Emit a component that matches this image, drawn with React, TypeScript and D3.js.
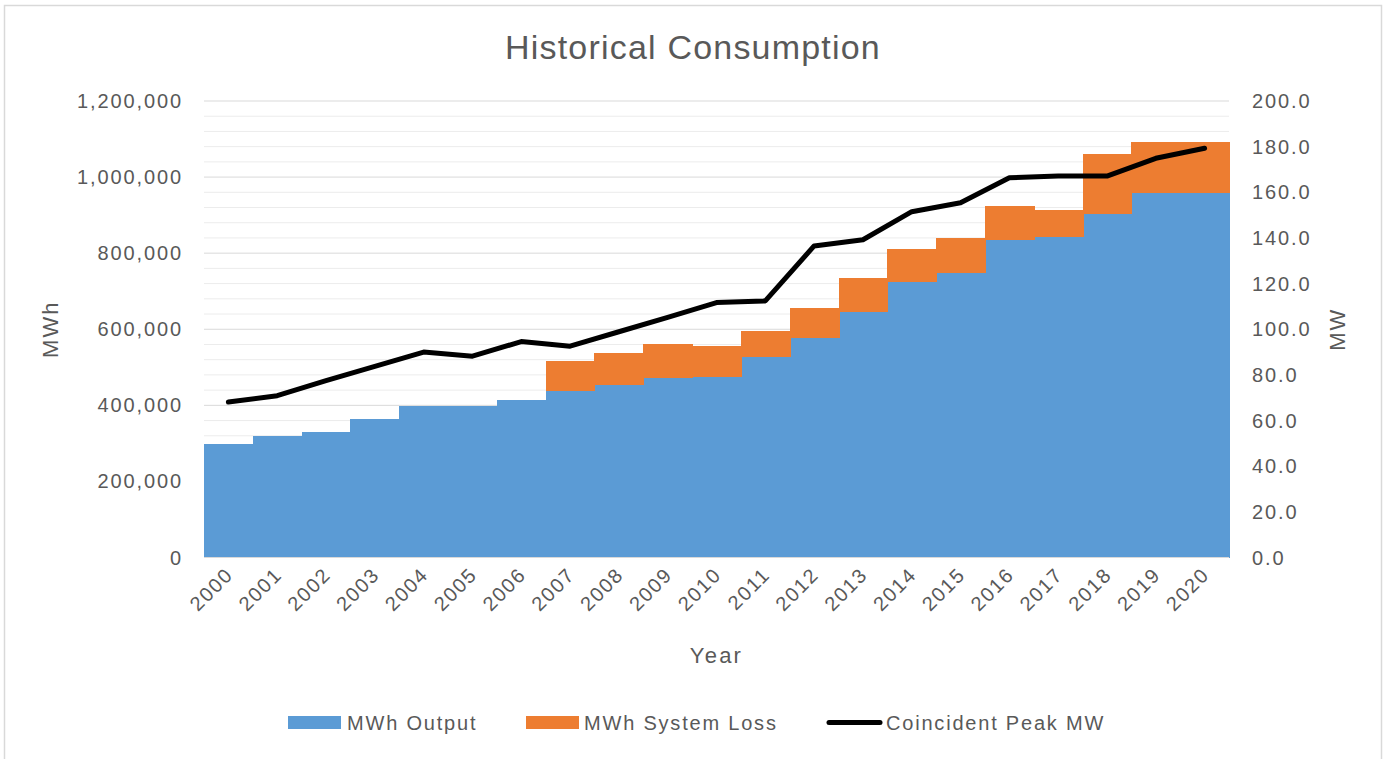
import React from 'react';
import * as d3 from 'd3';

const years = ['2000', '2001', '2002', '2003', '2004', '2005', '2006', '2007', '2008', '2009', '2010',
  '2011', '2012', '2013', '2014', '2015', '2016', '2017', '2018', '2019', '2020'];
const mwhOutput = [298000, 319000, 331000, 364000, 398000, 399000, 415000, 437000, 454000, 471000, 475000,
  526000, 578000, 645000, 723000, 747000, 835000, 842000, 902000, 959000, 959000];
const mwhLoss = [0, 0, 0, 0, 0, 0, 0, 79000, 83000, 89000, 81000,
  69000, 79000, 89000, 88000, 94000, 89000, 72000, 158000, 134000, 134000];
const peakMW = [68.1, 70.9, 77.5, 83.7, 90.0, 88.2, 94.6, 92.6, 98.9, 105.2, 111.7,
  112.4, 136.5, 139.2, 151.5, 155.4, 166.4, 167.1, 167.1, 174.9, 179.3];
const leftTicks = [0, 200000, 400000, 600000, 800000, 1000000, 1200000];
const rightTicks = [0, 20, 40, 60, 80, 100, 120, 140, 160, 180, 200];

const W = 1386;
const H = 759;
const margin = { top: 101, left: 204, right: W - 1229, bottom: H - 557.5 };
const textColor = '#595959';
const blue = '#5B9BD5';
const orange = '#ED7D31';
const font = '"Liberation Sans", Arial, sans-serif';

const App = () => {
  const x = d3.scaleBand().domain(years).range([margin.left, W - margin.right]).padding(0);
  const y = d3.scaleLinear().domain([0, 1200000]).range([H - margin.bottom, margin.top]);
  const y2 = d3.scaleLinear().domain([0, 200]).range([H - margin.bottom, margin.top]);

  const rows = years.map((yr, i) => ({ year: yr, output: mwhOutput[i], loss: mwhLoss[i] }));
  const stacked = d3.stack().keys(['output', 'loss'])(rows as any);
  const colors = [blue, orange];

  const line = d3.line<number>()
    .x((d, i) => (x(years[i]) as number) + x.bandwidth() / 2)
    .y(d => y2(d));

  const minorTicks = d3.range(0, 1200001, 40000).filter(v => v % 200000 !== 0);
  const fmt = d3.format(',');
  const midY = (margin.top + H - margin.bottom) / 2;

  return (
    <svg width={W} height={H} style={{ position: 'absolute', left: 0, top: 0, fontFamily: font }}>
      <rect x={4.5} y={5.5} width={1377} height={H} fill="#fff" stroke="#d9d9d9" strokeWidth={1.5} />
      <text x={693} y={59} textAnchor="middle" fontSize={34} fill={textColor} letterSpacing={1.2}>Historical Consumption</text>

      {minorTicks.map(v => (
        <line key={'m' + v} x1={margin.left} x2={W - margin.right} y1={y(v)} y2={y(v)} stroke="#ececec" strokeWidth={1} />
      ))}
      {leftTicks.map(v => (
        <line key={'g' + v} x1={margin.left} x2={W - margin.right} y1={y(v)} y2={y(v)} stroke="#d9d9d9" strokeWidth={1} />
      ))}

      {stacked.map((s, si) => (
        <g key={si} fill={colors[si]} shapeRendering="crispEdges">
          {s.map((d: any, i) => (d[1] - d[0] > 0 ? (
            <rect key={i} x={x(years[i])} width={x.bandwidth() + 1} y={y(d[1])} height={y(d[0]) - y(d[1])} />
          ) : null))}
        </g>
      ))}

      <line x1={margin.left} x2={W - margin.right} y1={y(0)} y2={y(0)} stroke="#d9d9d9" strokeWidth={1} />

      <path d={line(peakMW) || ''} fill="none" stroke="#000" strokeWidth={5} strokeLinejoin="round" strokeLinecap="round" />

      {leftTicks.map(v => (
        <text key={'l' + v} x={183} y={y(v)} dy="0.35em" textAnchor="end" fontSize={20} fill={textColor} letterSpacing={1.9}>{fmt(v)}</text>
      ))}
      {rightTicks.map(v => (
        <text key={'r' + v} x={1252} y={y2(v)} dy="0.35em" textAnchor="start" fontSize={20} fill={textColor} letterSpacing={1.9}>{v.toFixed(1)}</text>
      ))}
      {years.map(yr => {
        const cx = (x(yr) as number) + x.bandwidth() / 2 + 6;
        return (
          <text key={yr} x={cx} y={576} textAnchor="end" fontSize={20} fill={textColor} letterSpacing={1.7}
            transform={`rotate(-45 ${cx} 576)`}>{yr}</text>
        );
      })}

      <text x={0} y={0} transform={`translate(58 ${midY}) rotate(-90)`} textAnchor="middle" fontSize={22} fill={textColor} letterSpacing={2}>MWh</text>
      <text x={0} y={0} transform={`translate(1345 ${midY}) rotate(-90)`} textAnchor="middle" fontSize={22} fill={textColor} letterSpacing={2}>MW</text>
      <text x={(margin.left + W - margin.right) / 2} y={663} textAnchor="middle" fontSize={22} fill={textColor} letterSpacing={2.2}>Year</text>

      <g fontSize={20} fill={textColor} letterSpacing={1.8}>
        <rect x={288} y={716} width={53} height={13} fill={blue} />
        <text x={347} y={722.5} dy="0.35em">MWh Output</text>
        <rect x={526} y={716} width={53} height={13} fill={orange} />
        <text x={584} y={722.5} dy="0.35em">MWh System Loss</text>
        <line x1={829} x2={880} y1={722.5} y2={722.5} stroke="#000" strokeWidth={5} strokeLinecap="round" />
        <text x={886} y={722.5} dy="0.35em">Coincident Peak MW</text>
      </g>
    </svg>
  );
};

export default App;
